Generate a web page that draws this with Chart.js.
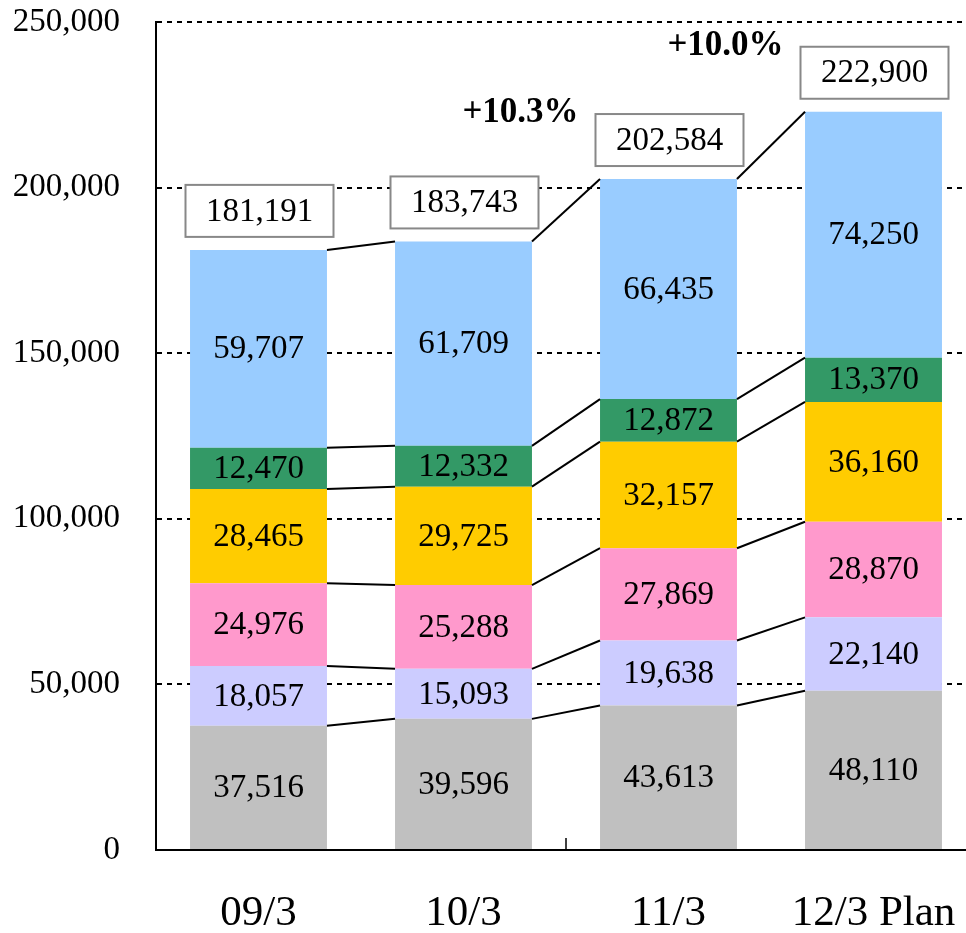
<!DOCTYPE html>
<html>
<head>
<meta charset="utf-8">
<script src="https://cdn.jsdelivr.net/npm/chart.js@4"></script>
<style>
  html, body { margin: 0; padding: 0; background: #fff; overflow: hidden; }
  canvas { display: block; }
</style>
</head>
<body>
<canvas id="salesChart" width="980" height="933"></canvas>
<script>
var periods = ['09/3', '10/3', '11/3', '12/3 Plan'];

var grayValues     = [37516, 39596, 43613, 48110];
var lavenderValues = [18057, 15093, 19638, 22140];
var pinkValues     = [24976, 25288, 27869, 28870];
var yellowValues   = [28465, 29725, 32157, 36160];
var greenValues    = [12470, 12332, 12872, 13370];
var blueValues     = [59707, 61709, 66435, 74250];

var totals = [181191, 183743, 202584, 222900];
var growth = ['', '', '+10.3%', '+10.0%'];

var yTicks = [0, 50000, 100000, 150000, 200000, 250000];

var serif = '"Liberation Serif", "Times New Roman", serif';

function fmt(v) {
    return v.toLocaleString('en-US');
}

// labels, connector lines, total boxes and growth rates drawn over the bars
var overlay = {
    id: 'overlay',
    afterDatasetsDraw: function(chart) {
        var ctx = chart.ctx;
        var area = chart.chartArea;
        var metas = chart.data.datasets.map(function(ds, i) { return chart.getDatasetMeta(i); });

        ctx.save();

        // lines joining the segment boundaries of neighbouring bars
        ctx.strokeStyle = '#000';
        ctx.lineWidth = 2;
        metas.forEach(function(meta) {
            for (var i = 0; i < meta.data.length - 1; i++) {
                var a = meta.data[i], b = meta.data[i + 1];
                ctx.beginPath();
                ctx.moveTo(a.x + a.width / 2, a.y);
                ctx.lineTo(b.x - b.width / 2, b.y);
                ctx.stroke();
            }
        });

        // segment values
        ctx.fillStyle = '#000';
        ctx.font = '33px ' + serif;
        ctx.textAlign = 'center';
        ctx.textBaseline = 'middle';
        metas.forEach(function(meta, d) {
            meta.data.forEach(function(bar, i) {
                var v = chart.data.datasets[d].data[i];
                ctx.fillText(fmt(v), bar.x, (bar.y + bar.base) / 2 + 1);
            });
        });

        // total boxes and growth labels
        var top = metas[metas.length - 1];
        var y = chart.scales.y;
        top.data.forEach(function(bar, i) {
            var barTop = y.getPixelForValue(totals[i]);
            var bw = 148, bh = 52;
            var bx = bar.x - bw / 2 + 1;
            var by = barTop - 13 - bh;
            ctx.fillStyle = '#fff';
            ctx.fillRect(bx, by, bw, bh);
            ctx.strokeStyle = '#888';
            ctx.lineWidth = 2;
            ctx.strokeRect(bx, by, bw, bh);
            ctx.fillStyle = '#000';
            ctx.font = '33px ' + serif;
            ctx.fillText(fmt(totals[i]), bx + bw / 2, by + bh / 2 + 1);

            if (growth[i]) {
                ctx.font = 'bold 35px ' + serif;
                ctx.fillText(growth[i], bar.x - 148, by - 1);
            }
        });

        // small tick at the middle of the category axis
        var x = chart.scales.x;
        var mid = (x.getPixelForValue(1) + x.getPixelForValue(2)) / 2;
        ctx.strokeStyle = '#000';
        ctx.lineWidth = 1.5;
        ctx.beginPath();
        ctx.moveTo(mid, area.bottom - 12);
        ctx.lineTo(mid, area.bottom);
        ctx.stroke();

        ctx.restore();
    }
};

var ctx = document.getElementById('salesChart').getContext('2d');
var chart = new Chart(ctx, {
    type: 'bar',
    data: {
        labels: periods,
        datasets: [
            { label: 'A', data: grayValues,     backgroundColor: '#C0C0C0' },
            { label: 'B', data: lavenderValues, backgroundColor: '#CCCCFF' },
            { label: 'C', data: pinkValues,     backgroundColor: '#FF99CC' },
            { label: 'D', data: yellowValues,   backgroundColor: '#FFCC00' },
            { label: 'E', data: greenValues,    backgroundColor: '#339966' },
            { label: 'F', data: blueValues,     backgroundColor: '#99CCFF' }
        ]
    },
    options: {
        responsive: false,
        animation: false,
        devicePixelRatio: 1,
        layout: { padding: { top: 22, right: 4, left: 0, bottom: 0 } },
        datasets: {
            bar: { categoryPercentage: 0.668, barPercentage: 1, borderWidth: 0 }
        },
        plugins: {
            legend: { display: false },
            tooltip: { enabled: false }
        },
        scales: {
            x: {
                stacked: true,
                grid: { display: false, drawTicks: false },
                border: { display: true, color: '#000', width: 2 },
                ticks: { color: '#000', padding: 38, font: { family: serif, size: 43 } },
                afterFit: function(scale) {
                    scale.height = 83;
                    scale.paddingLeft = 0;
                    scale.paddingRight = 0;
                }
            },
            y: {
                stacked: true,
                min: 0,
                max: 250000,
                afterBuildTicks: function(scale) {
                    scale.ticks = yTicks.map(function(v) { return { value: v }; });
                },
                grid: {
                    drawTicks: false,
                    lineWidth: 2,
                    color: function(c) { return c.tick && c.tick.value === 0 ? 'rgba(0,0,0,0)' : '#000'; }
                },
                border: { display: true, color: '#000', width: 2, dash: [5, 5] },
                ticks: {
                    color: '#000',
                    padding: 36,
                    font: { family: serif, size: 33 },
                    callback: function(v) { return fmt(v); }
                },
                afterFit: function(scale) {
                    scale.width = 156;
                    scale.paddingTop = 0;
                    scale.paddingBottom = 0;
                }
            }
        }
    },
    plugins: [overlay]
});
</script>
</body>
</html>
